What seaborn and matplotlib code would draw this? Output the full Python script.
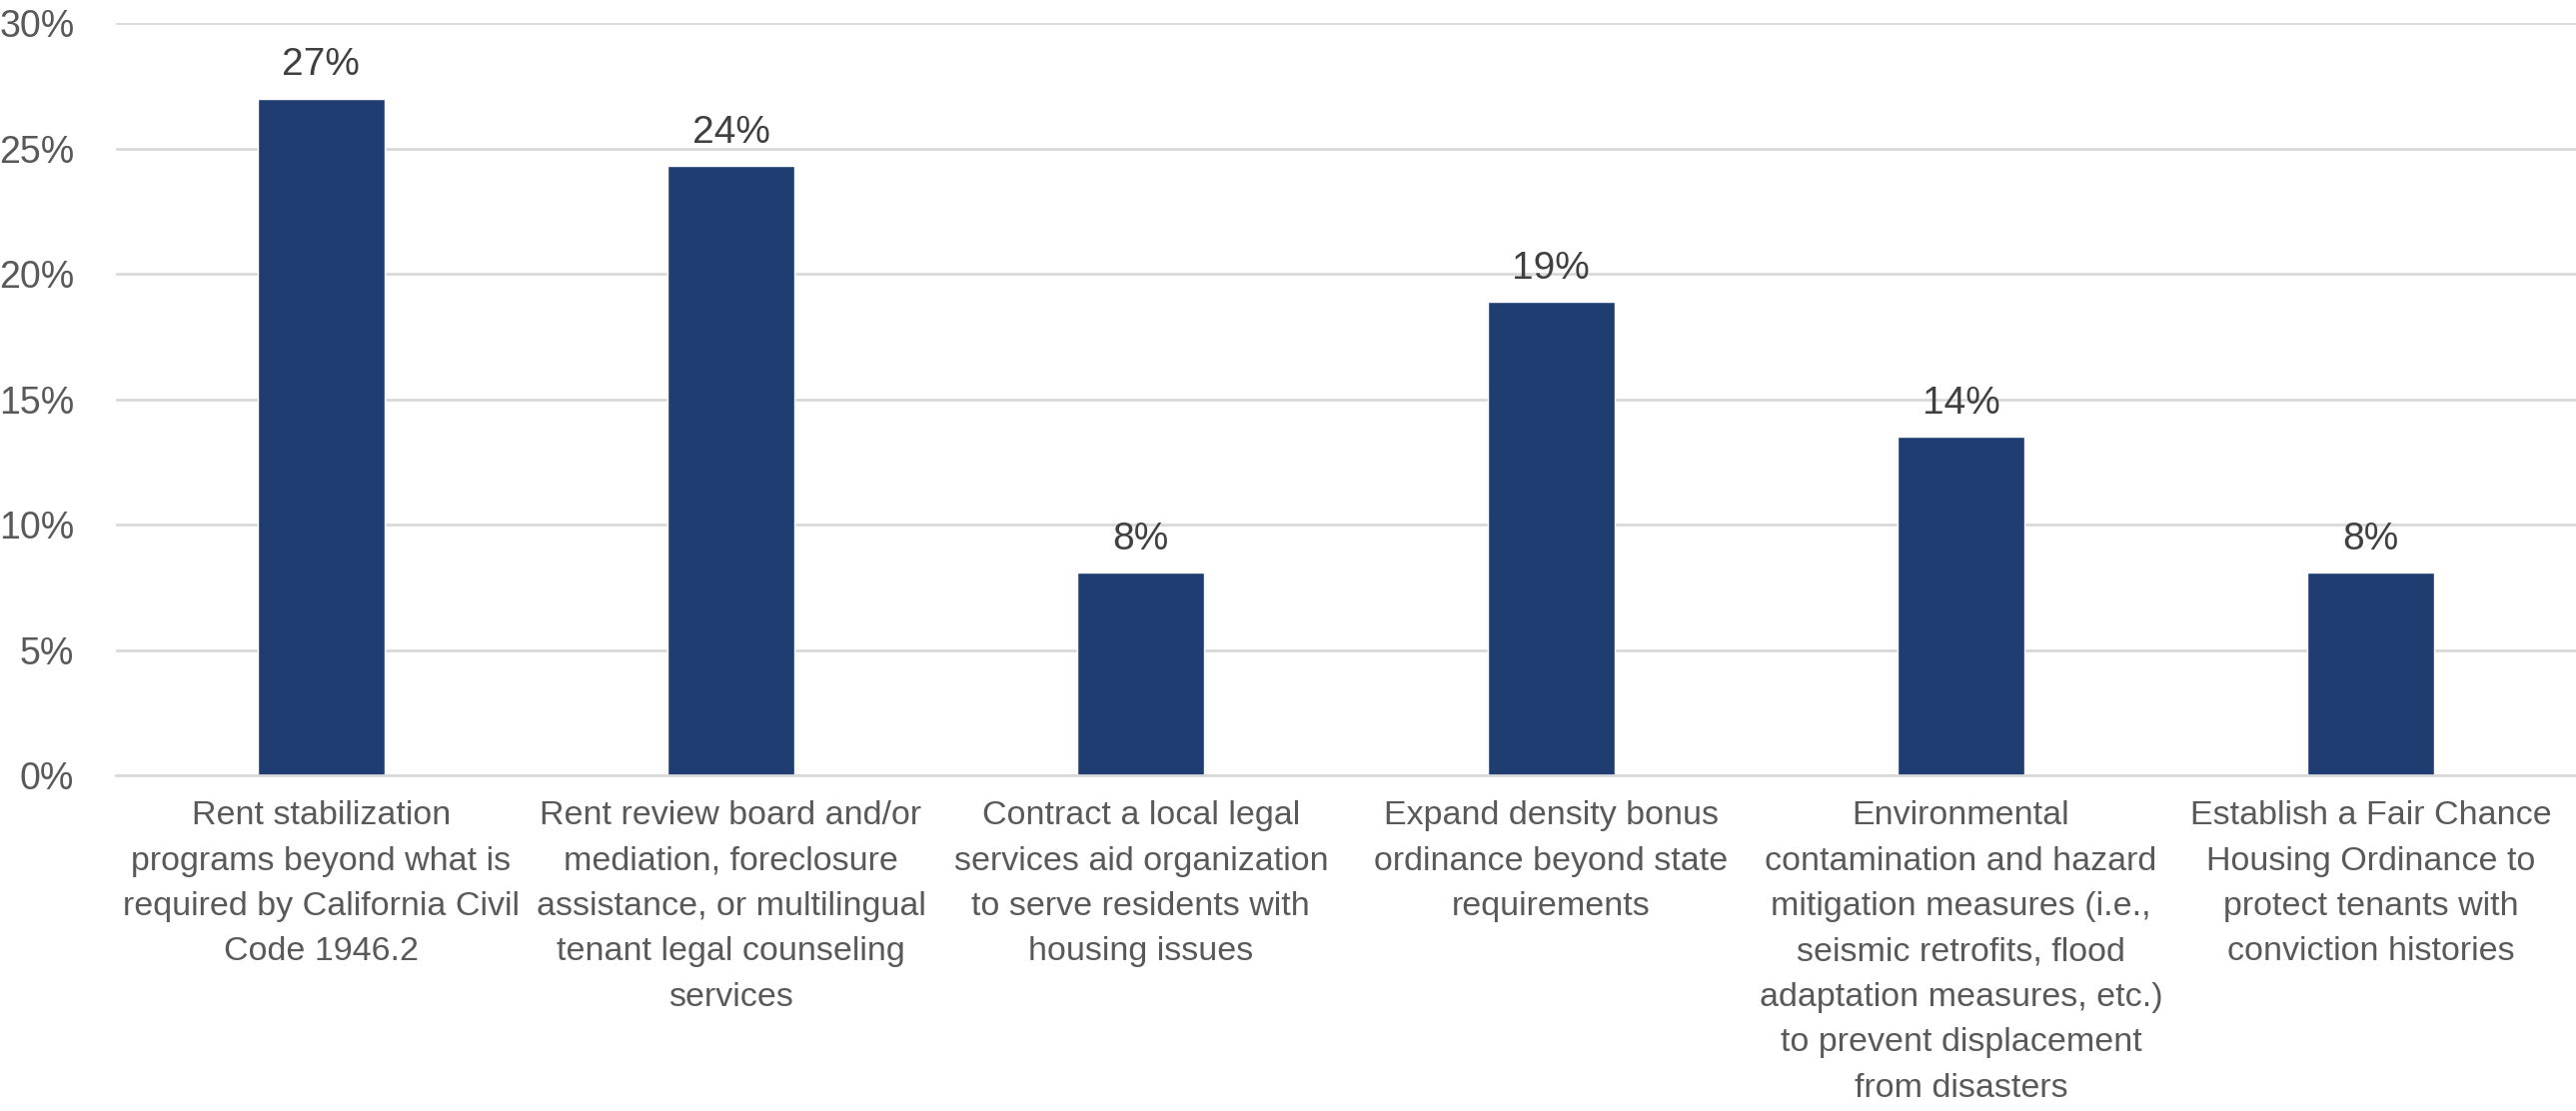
import matplotlib
matplotlib.use("Agg")
import matplotlib.pyplot as plt
import seaborn as sns
import pandas as pd
from matplotlib.ticker import PercentFormatter

# Data
categories = [
    "Rent stabilization\nprograms beyond what is\nrequired by California Civil\nCode 1946.2",
    "Rent review board and/or\nmediation, foreclosure\nassistance, or multilingual\ntenant legal counseling\nservices",
    "Contract a local legal\nservices aid organization\nto serve residents with\nhousing issues",
    "Expand density bonus\nordinance beyond state\nrequirements",
    "Environmental\ncontamination and hazard\nmitigation measures (i.e.,\nseismic retrofits, flood\nadaptation measures, etc.)\nto prevent displacement\nfrom disasters",
    "Establish a Fair Chance\nHousing Ordinance to\nprotect tenants with\nconviction histories",
]
shares = [0.270, 0.243, 0.081, 0.189, 0.135, 0.081]
y_ticks = [0, 0.05, 0.10, 0.15, 0.20, 0.25, 0.30]

df = pd.DataFrame({"measure": categories, "share": shares})

sns.set_style("white")
plt.rcParams["font.family"] = ["Liberation Sans Narrow", "Liberation Sans", "DejaVu Sans"]

text_color = "#595959"
bar_color = "#1F3D71"
grid_color = "#D9D9D9"

fig = plt.figure(figsize=(25.78, 11.12), dpi=100)
ax = fig.add_axes([0.045, 0.302, 0.955, 0.677])

sns.barplot(data=df, x="measure", y="share", color=bar_color, width=0.31,
            saturation=1, ax=ax)

ax.set_ylim(0, 0.30)
ax.set_yticks(y_ticks)
ax.yaxis.set_major_formatter(PercentFormatter(1.0, decimals=0))
ax.grid(axis="y", color=grid_color, linewidth=2)
ax.set_axisbelow(True)
for side in ["top", "right", "left"]:
    ax.spines[side].set_visible(False)
ax.spines["bottom"].set_color(grid_color)
ax.spines["bottom"].set_linewidth(2)

ax.set_xlabel("")
ax.set_ylabel("")
ax.tick_params(axis="y", length=0, pad=30, labelsize=27, labelcolor=text_color)
ax.tick_params(axis="x", length=0, pad=18, labelsize=24.5, labelcolor=text_color)
for lbl in ax.get_xticklabels():
    lbl.set_linespacing(1.6)

# value labels above bars
ax.bar_label(ax.containers[0], labels=[f"{round(v * 100):.0f}%" for v in shares],
             padding=11, fontsize=28, color="#404040")

fig.savefig("out.png", dpi=100)
